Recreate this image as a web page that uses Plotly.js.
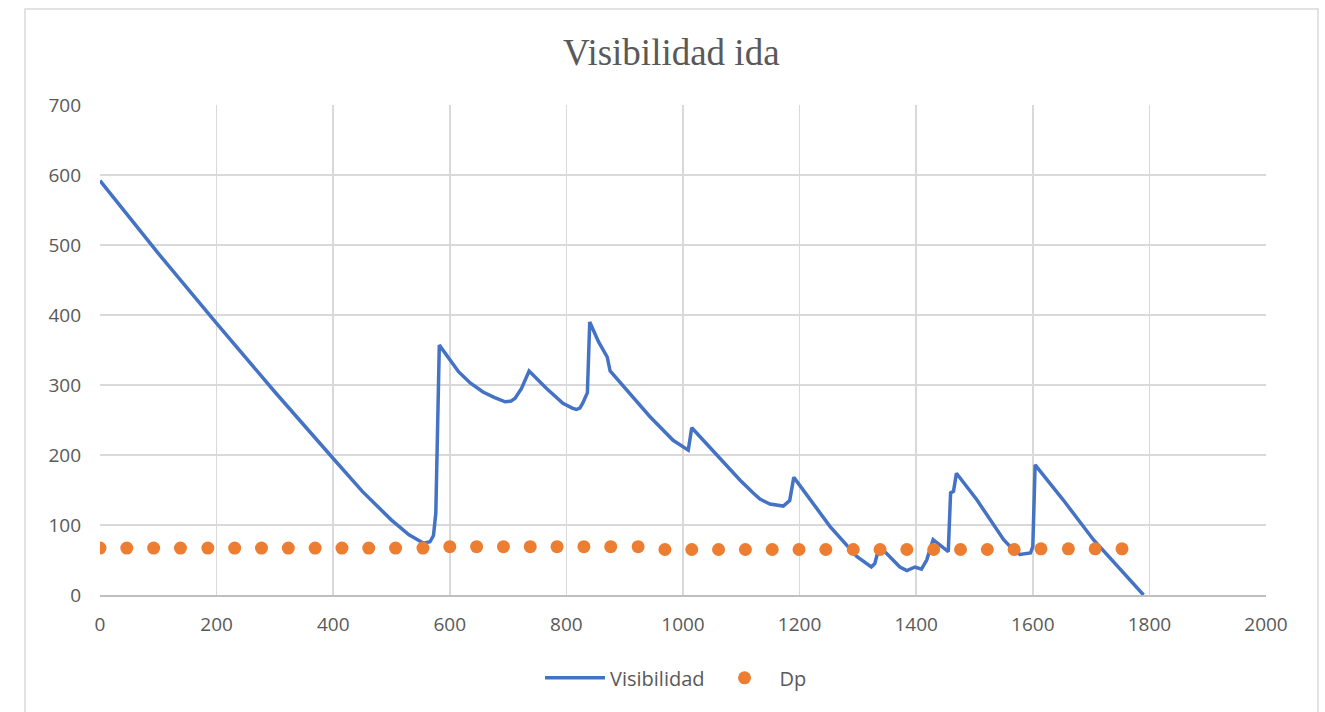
<!DOCTYPE html>
<html>
<head>
<meta charset="utf-8">
<script src="https://cdn.plot.ly/plotly-3.0.1.min.js"></script>
<style>html,body{margin:0;padding:0;background:#fff;}#chart{width:1325px;height:712px;}</style>
</head>
<body>
<div id="chart"></div>
<script>
// Visibilidad series (distance, visibility)
const visX = [0, 100, 200, 300, 400, 450, 500, 530, 555, 566, 572, 576, 582, 600, 615, 635, 657, 677, 695, 705, 712, 723, 736, 766, 794, 810, 817, 823, 828, 836, 840, 855, 870, 875, 915, 943, 983, 1009, 1015, 1058, 1098, 1120, 1132, 1149, 1160, 1172, 1183, 1190, 1200, 1252, 1298, 1323, 1329, 1335, 1346, 1372, 1384, 1398, 1409, 1418, 1429, 1441, 1455, 1459, 1464, 1469, 1504, 1550, 1567, 1578, 1596, 1600, 1604, 1652, 1704, 1790];
const visY = [592, 488, 388, 290, 195, 148, 107, 86, 74, 76, 85, 117, 357, 336, 319, 303, 290, 282, 276, 277, 281, 295, 320, 295, 274, 267, 265, 267, 274, 289, 390, 362, 340, 320, 281, 255, 221, 207, 239, 200, 164, 146, 137, 130, 128, 127, 135, 168, 157, 98, 55, 40, 45, 64, 62, 40, 35, 40, 37, 50, 79, 71, 62, 146, 148, 174, 136, 79, 64, 58, 60, 69, 186, 136, 79, 0];

// Dp series
const dpX = [0, 46, 92, 138, 185, 231, 277, 323, 369, 415, 461, 507, 554, 600, 646, 692, 738, 784, 830, 876, 923, 969, 1015, 1061, 1107, 1153, 1199, 1245, 1292, 1338, 1384, 1430, 1476, 1522, 1568, 1614, 1661, 1707, 1753];
const dpY = [67, 67, 67, 67, 67, 67, 67, 67, 67, 67, 67, 67, 67, 69, 69, 69, 69, 69, 69, 69, 69, 65, 65, 65, 65, 65, 65, 65, 65, 65, 65, 65, 65, 65, 65, 66, 66, 66, 66];

const xTicks = [0, 200, 400, 600, 800, 1000, 1200, 1400, 1600, 1800, 2000];
const yTicks = [0, 100, 200, 300, 400, 500, 600, 700];

const traces = [
  {x: visX, y: visY, name: 'Visibilidad', mode: 'lines', type: 'scatter',
   line: {color: '#4472C4', width: 3.5}},
  {x: dpX, y: dpY, name: 'Dp', mode: 'markers', type: 'scatter',
   marker: {color: '#ED7D31', size: 13}}
];

const tickFont = {family: 'Open Sans, Liberation Sans, sans-serif', size: 19, color: '#595959'};

const layout = {
  width: 1325, height: 712,
  margin: {l: 100, r: 59, t: 105, b: 117},
  paper_bgcolor: '#ffffff', plot_bgcolor: '#ffffff',
  title: {text: 'Visibilidad ida', font: {family: 'Liberation Serif, Times New Roman, serif', size: 37, color: '#595959'},
          x: 0.5066, xref: 'container', xanchor: 'center', y: 0.927, yref: 'container', yanchor: 'middle'},
  xaxis: {range: [0, 2000], tickvals: xTicks, ticktext: xTicks.map(String), showgrid: true, gridcolor: '#D9D9D9', gridwidth: 1.5,
          zeroline: false, showline: true, linecolor: '#BFBFBF', linewidth: 1.5, ticks: '', tickfont: tickFont,
          ticklabelstandoff: 12, fixedrange: true},
  yaxis: {range: [0, 700], tickvals: yTicks, ticktext: yTicks.map(String), showgrid: true, gridcolor: '#D9D9D9', gridwidth: 1.5,
          zeroline: false, showline: false, ticks: '', tickfont: tickFont, ticklabelstandoff: 18, fixedrange: true},
  showlegend: true,
  legend: {orientation: 'h', x: 0.494, xanchor: 'center', y: -0.169, yanchor: 'middle',
           font: {family: 'Open Sans, Liberation Sans, sans-serif', size: 20, color: '#595959'}, itemwidth: 60},
  shapes: [
    {type: 'rect', xref: 'paper', yref: 'paper', x0: -0.0643, x1: 1.0446, y0: -0.4, y1: 1.196,
     line: {color: '#D9D9D9', width: 1.5}, fillcolor: 'rgba(0,0,0,0)', layer: 'below'}
  ]
};

Plotly.newPlot('chart', traces, layout, {displayModeBar: false, staticPlot: true});
</script>
</body>
</html>
